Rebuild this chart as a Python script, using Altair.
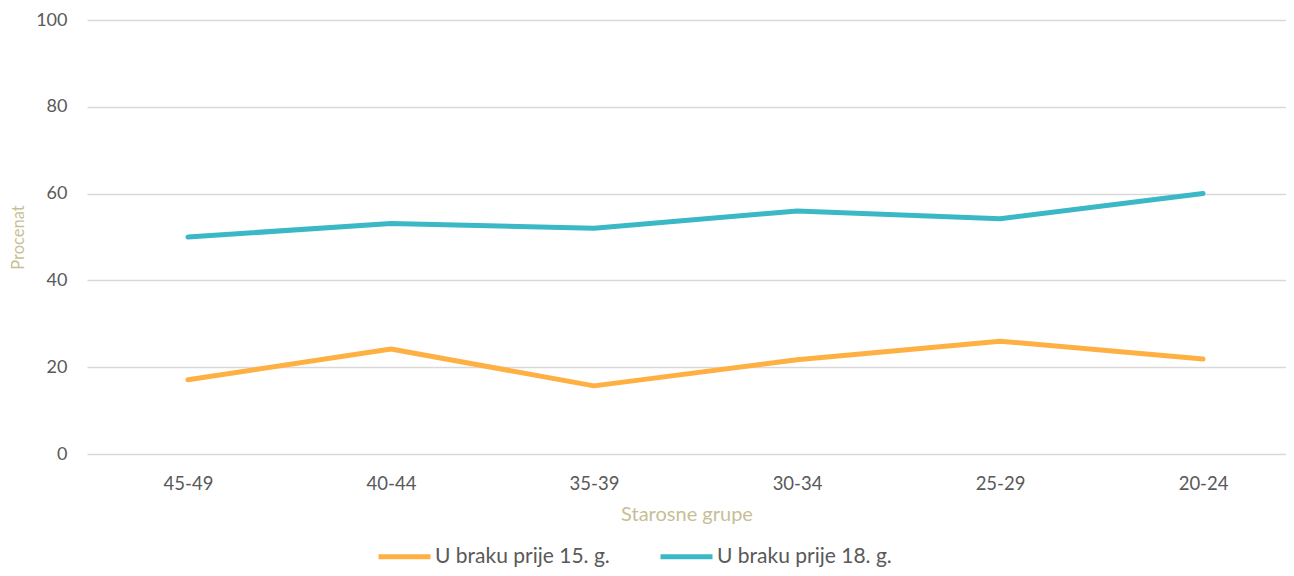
import altair as alt
import pandas as pd

groups = ["45-49", "40-44", "35-39", "30-34", "25-29", "20-24"]
before15 = [17.1, 24.2, 15.7, 21.7, 26.0, 21.9]
before18 = [50.0, 53.1, 52.0, 56.0, 54.2, 60.0]
series = ["U braku prije 15. g.", "U braku prije 18. g."]
colors = ["#FFB042", "#3BB8C6"]

rows = []
for g, a, b in zip(groups, before15, before18):
    rows.append({"grupa": g, "serija": series[0], "vrijednost": a})
    rows.append({"grupa": g, "serija": series[1], "vrijednost": b})
df = pd.DataFrame(rows)

font = "Lato"

chart = alt.Chart(df).mark_line(strokeWidth=5, strokeCap="round", strokeJoin="round").encode(
    x=alt.X("grupa:N", sort=groups, title="Starosne grupe",
            scale=alt.Scale(type="point", padding=0.453, align=0.549),
            axis=alt.Axis(labelAngle=0, ticks=False, domain=False, grid=False,
                          labelPadding=20, labelFontSize=18.5, labelColor="#595959",
                          titleFontSize=20, titleColor="#C8BE96", titleFontWeight="normal",
                          titlePadding=12, labelFont=font, titleFont=font)),
    y=alt.Y("vrijednost:Q", title="Procenat",
            scale=alt.Scale(domain=[0, 100], nice=False),
            axis=alt.Axis(values=[0, 20, 40, 60, 80, 100], ticks=False, domain=False,
                          gridColor="#D9D9D9", gridWidth=1.5,
                          labelPadding=20, labelFontSize=18, labelColor="#595959",
                          titleFontSize=16.5, titleColor="#C8BE96", titleFontWeight="normal",
                          titlePadding=9, labelFont=font, titleFont=font)),
    color=alt.Color("serija:N", sort=series,
                    scale=alt.Scale(domain=series, range=colors),
                    legend=alt.Legend(title=None, orient="none", direction="horizontal",
                                      legendX=305, legendY=524, padding=0, labelLimit=400,
                                      symbolType="M-2.6,0H2.6", symbolSize=400, symbolStrokeWidth=5,
                                      labelFontSize=21, labelColor="#595959", labelFont=font,
                                      columnPadding=40, labelOffset=18)),
).properties(
    width=1278, height=434,
    padding={"left": 2, "top": 3, "right": 0, "bottom": 44},
    autosize=alt.AutoSizeParams(type="fit-x", contains="padding"),
    background="white",
).configure_view(stroke=None)

chart.save("out.html", embed_options={"renderer": "svg", "actions": False})
